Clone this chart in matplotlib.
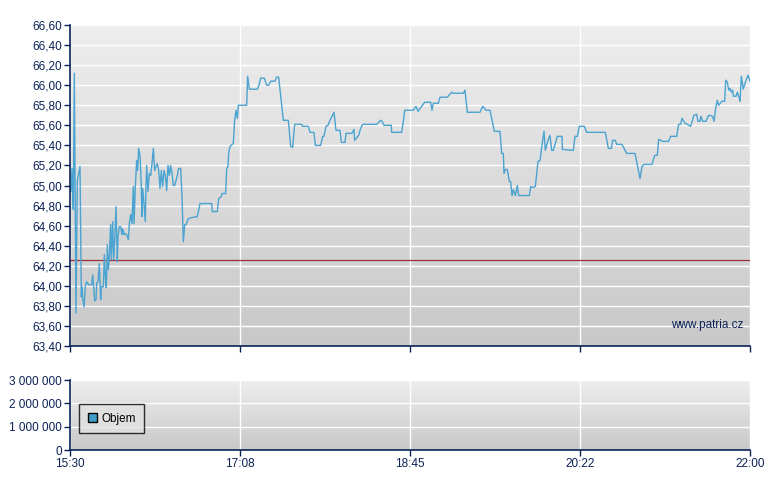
import numpy as np
import matplotlib
matplotlib.use("Agg")
import matplotlib.pyplot as plt
from matplotlib.patches import Patch
from matplotlib.ticker import FuncFormatter

plt.rcParams['font.family'] = ['Liberation Sans', 'DejaVu Sans']

# intraday trade, minutes after 15:30 and price
minutes = [
    0.57, 1.15, 1.53, 1.91, 2.49, 3.44, 4.21, 5.74, 6.50, 6.88, 7.27, 8.03, 8.79, 9.56,
    10.71, 12.43, 13.00, 13.57, 14.15, 14.91, 15.30, 16.06, 16.82, 17.59, 17.97, 19.12,
    19.69, 20.27, 20.84, 21.41, 21.99, 22.56, 23.32, 23.71, 24.47, 25.04, 25.62, 26.38,
    27.15, 27.53, 28.30, 29.06, 29.82, 30.21, 30.97, 31.74, 32.50, 33.46, 34.03, 34.80,
    35.56, 36.32, 36.71, 37.47, 38.24, 38.81, 39.38, 40.15, 40.91, 41.30, 41.68, 42.44,
    43.21, 43.59, 43.97, 44.74, 45.50, 46.27, 47.03, 47.80, 48.56, 49.32, 50.09, 50.85,
    51.62, 52.38, 53.15, 53.91, 54.68, 55.44, 56.21, 56.97, 57.74, 58.50, 59.27, 60.03,
    61.56, 62.33, 63.47, 64.24, 65.00, 65.77, 66.53, 67.87, 69.78, 73.03, 74.56, 81.25,
    81.63, 84.50, 85.27, 86.80, 87.18, 89.28, 89.85, 90.62, 91.00, 91.76, 93.67, 94.44,
    95.20, 95.97, 96.54, 101.32, 101.89, 102.85, 107.44, 108.39, 109.35, 111.45, 112.79,
    113.94, 115.08, 117.57, 118.53, 119.67, 122.35, 125.22, 126.55, 127.70, 128.85,
    132.86, 133.44, 136.69, 137.64, 139.94, 140.70, 143.76, 144.91, 145.67, 146.82,
    147.97, 149.11, 151.41, 152.56, 154.85, 155.61, 157.72, 158.29, 161.73, 162.88,
    163.26, 165.55, 166.70, 167.85, 175.88, 178.17, 178.94, 180.08, 184.29, 184.48,
    190.22, 191.17, 191.94, 196.91, 198.44, 199.59, 203.41, 206.85, 207.61, 208.38,
    211.25, 212.20, 216.41, 218.89, 219.85, 225.58, 226.54, 227.88, 235.14, 236.67,
    238.58, 240.88, 243.36, 246.61, 247.57, 248.53, 248.91, 249.67, 250.82, 251.97,
    252.73, 253.50, 254.26, 255.41, 256.56, 257.32, 263.44, 264.20, 265.35, 266.88,
    268.41, 269.56, 270.70, 271.85, 272.61, 274.14, 275.29, 276.25, 277.20, 279.50,
    282.18, 282.37, 288.67, 289.63, 290.97, 292.11, 294.98, 296.32, 307.02, 308.75,
    310.47, 311.23, 312.76, 313.53, 316.58, 319.26, 324.04, 326.91, 328.05, 329.20,
    333.79, 335.32, 336.85, 337.61, 339.91, 343.35, 344.49, 347.94, 349.08, 350.23,
    350.99, 352.72, 354.05, 355.97, 357.88, 359.41, 360.17, 361.32, 361.89, 362.85,
    364.76, 366.29, 368.58, 369.35, 370.49, 371.26, 372.02, 373.94, 375.47, 376.04,
    377.00, 377.76, 378.52, 379.29, 380.06, 380.44, 381.97, 382.73, 383.88, 384.26,
    385.03, 386.17, 387.70, 388.85, 390.00,
]
prices = [
    64.94, 65.17, 64.94, 64.76, 66.12, 63.73, 65.05, 65.19, 63.89, 63.99, 63.88, 63.79, 63.99, 64.04,
    64.01, 64.01, 64.11, 63.99, 63.85, 63.86, 64.03, 64.04, 64.22, 63.86, 63.99, 63.99,
    64.31, 64.09, 63.98, 64.41, 64.16, 64.29, 64.61, 64.26, 64.64, 64.26, 64.44, 64.79,
    64.24, 64.49, 64.59, 64.59, 64.51, 64.57, 64.51, 64.52, 64.51, 64.46, 64.62, 64.71,
    64.62, 64.99, 64.62, 64.99, 65.25, 65.15, 65.37, 65.30, 64.99, 64.69, 64.97, 64.82,
    64.64, 64.99, 65.20, 64.94, 65.12, 65.10, 65.22, 65.37, 65.15, 65.19, 65.22, 65.15,
    64.97, 65.15, 64.99, 65.15, 65.10, 64.95, 65.20, 65.10, 65.20, 65.12, 65.00, 65.00,
    65.10, 65.17, 65.17, 64.89, 64.44, 64.61, 64.61, 64.67, 64.68, 64.69, 64.82, 64.82,
    64.74, 64.74, 64.87, 64.89, 64.92, 64.92, 65.17, 65.19, 65.32, 65.39, 65.42, 65.65,
    65.75, 65.67, 65.80, 65.80, 66.09, 65.96, 65.96, 66.00, 66.07, 66.07, 66.00,
    66.00, 66.04, 66.04, 66.08, 66.08, 65.65, 65.65, 65.39, 65.38, 65.61,
    65.61, 65.59, 65.59, 65.53, 65.53, 65.40, 65.40, 65.49, 65.49, 65.59,
    65.60, 65.65, 65.73, 65.55, 65.55, 65.43, 65.43, 65.52, 65.52, 65.56,
    65.45, 65.50, 65.57, 65.61, 65.61, 65.65, 65.64, 65.60, 65.60, 65.53,
    65.53, 65.64, 65.75, 65.75, 65.79, 65.74, 65.83, 65.83, 65.75, 65.82,
    65.82, 65.88, 65.88, 65.93, 65.92, 65.92, 65.95, 65.73, 65.73, 65.79,
    65.75, 65.75, 65.54, 65.54, 65.32, 65.32, 65.12, 65.16, 65.16, 65.04,
    65.04, 64.90, 64.96, 64.90, 65.00, 64.90, 64.90, 64.99, 64.98, 64.99,
    65.24, 65.25, 65.40, 65.54, 65.35, 65.45, 65.50, 65.35, 65.35, 65.49,
    65.49, 65.36, 65.35, 65.49, 65.49, 65.59, 65.59, 65.53, 65.53, 65.37,
    65.37, 65.45, 65.45, 65.41, 65.41, 65.32, 65.32, 65.07, 65.19, 65.21,
    65.21, 65.30, 65.30, 65.46, 65.44, 65.44, 65.49, 65.49, 65.61, 65.61,
    65.67, 65.62, 65.61, 65.59, 65.70, 65.71, 65.64, 65.64, 65.69, 65.64,
    65.64, 65.70, 65.69, 65.64, 65.79, 65.85, 65.80, 65.84, 65.84, 66.05,
    66.03, 65.95, 65.97, 65.93, 65.95, 65.89, 65.89, 65.93, 65.87, 65.84,
    66.09, 65.96, 66.05, 66.10, 66.04,
]
prev_close = 64.26

price_ticks = np.arange(63.40, 66.61, 0.20)
vol_ticks = [0, 1000000, 2000000, 3000000]
time_ticks = [0, 97.5, 195, 292.5, 390]
time_labels = ['15:30', '17:08', '18:45', '20:22', '22:00']

NAVY = '#0b2255'
LINE = '#4aa3d0'

fig = plt.figure(figsize=(7.8, 4.9), dpi=100)
ax = fig.add_axes([70 / 780, 1 - 346 / 490, 680 / 780, 321 / 490])
axv = fig.add_axes([70 / 780, 1 - 450 / 490, 680 / 780, 70 / 490])

grad = np.linspace(0, 1, 256).reshape(-1, 1)
for a in (ax, axv):
    a.imshow(grad, cmap=matplotlib.colors.LinearSegmentedColormap.from_list(
        'bg', ['#eeeeee', '#c8c8c8']), aspect='auto', extent=[0, 1, 0, 1],
        transform=a.transAxes, zorder=0)
    a.set_xlim(0, 390)
    a.set_xticks(time_ticks)
    a.grid(True, color='white', linewidth=1, zorder=1)
    a.set_axisbelow(True)
    for s in ('top', 'right'):
        a.spines[s].set_visible(False)
    for s in ('left', 'bottom'):
        a.spines[s].set_color(NAVY)
        a.spines[s].set_linewidth(1.2)
        a.spines[s].set_zorder(4)
    a.tick_params(colors=NAVY, labelcolor=NAVY, length=4, width=1, labelsize=8.5, pad=2)

# price panel
ax.plot(minutes, prices, color=LINE, linewidth=1, zorder=3)
ax.axhline(prev_close, color='#9a3030', linewidth=0.9, zorder=2)
ax.set_ylim(63.40, 66.60)
ax.set_yticks(price_ticks)
ax.yaxis.set_major_formatter(FuncFormatter(lambda v, p: f'{v:.2f}'.replace('.', ',')))
ax.set_xticklabels([])
ax.text(0.99, 0.065, 'www.patria.cz', transform=ax.transAxes, ha='right', va='center',
        color=NAVY, fontsize=8.5, zorder=5)

# volume panel
axv.set_ylim(0, 3000000)
axv.set_yticks(vol_ticks)
axv.yaxis.set_major_formatter(FuncFormatter(lambda v, p: f'{int(v):,}'.replace(',', ' ')))
axv.set_xticklabels(time_labels)
leg = axv.legend(handles=[Patch(facecolor='#3d9dc8', edgecolor='black', label='Objem')],
                 loc='center left', bbox_to_anchor=(0.005, 0.45), frameon=True,
                 fancybox=False, fontsize=8.5, handlelength=0.8, handleheight=0.8,
                 handletextpad=0.4, borderpad=0.7)
leg.get_frame().set_edgecolor('black')
leg.get_frame().set_facecolor('#e2e2e2')
leg.get_frame().set_linewidth(1)

fig.savefig('out.png', dpi=100)
